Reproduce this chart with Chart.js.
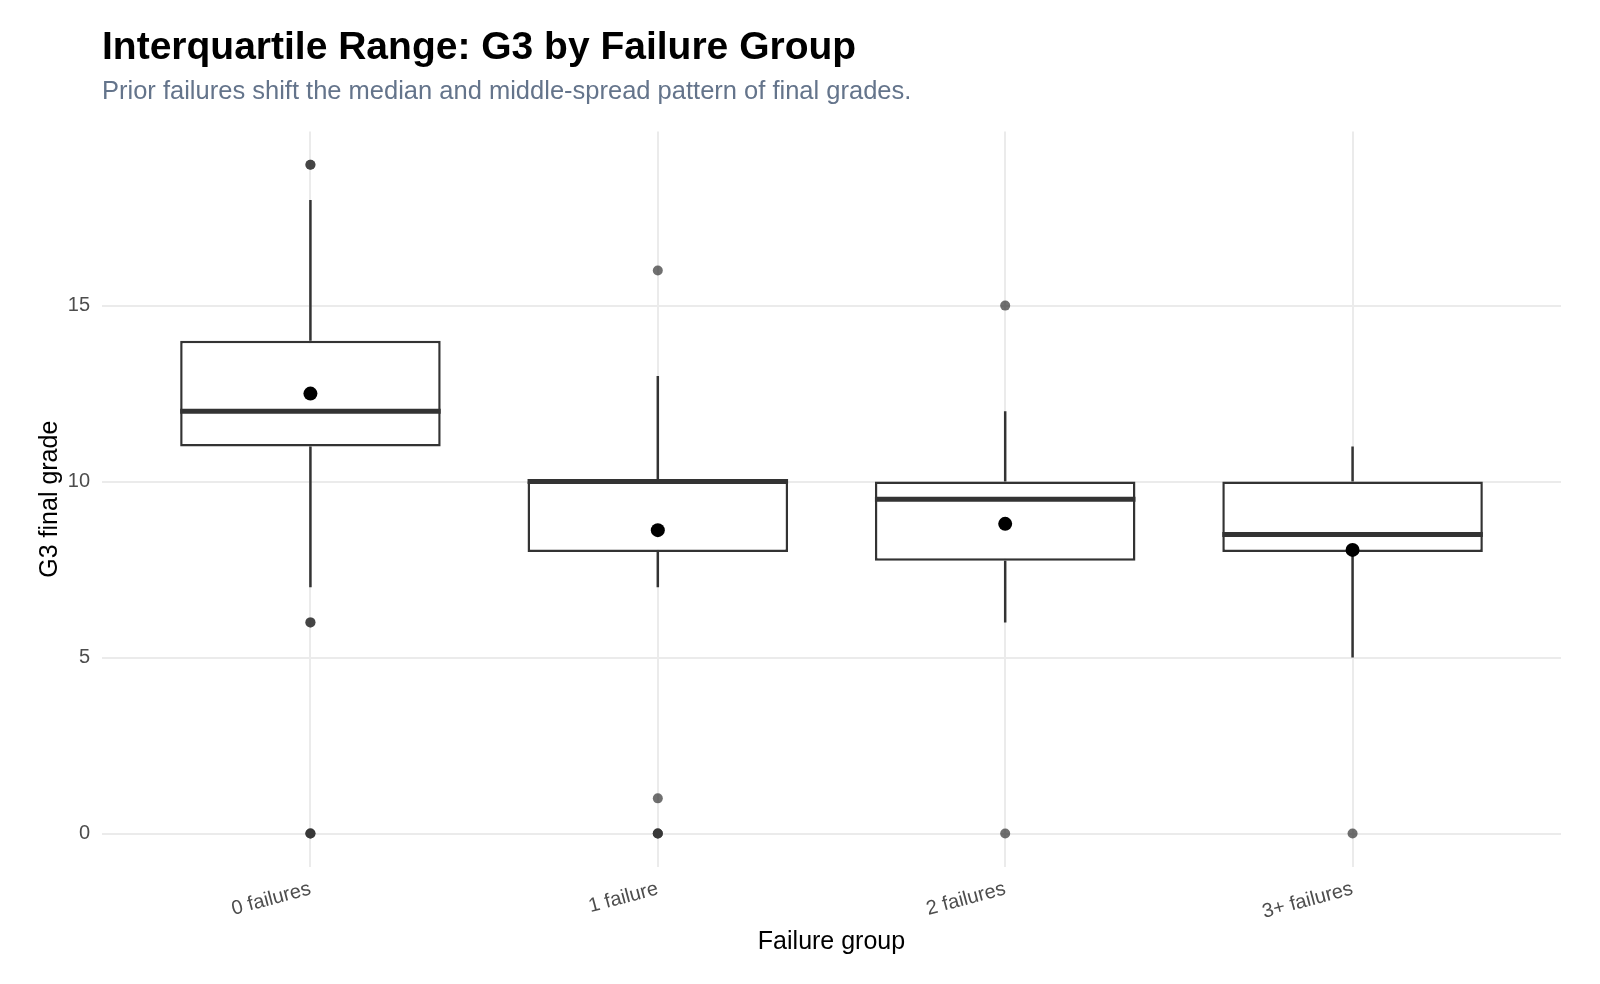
<!DOCTYPE html>
<html>
<head>
<meta charset="utf-8">
<script src="https://cdn.jsdelivr.net/npm/chart.js@4.4.1/dist/chart.umd.min.js"></script>
<style>
  html, body { margin: 0; padding: 0; background: #ffffff; }
  #wrap { width: 1600px; height: 984px; position: relative; }
</style>
</head>
<body>
<div id="wrap"><canvas id="boxplot"></canvas></div>
<script>
// data
const groupLabels = ['0 failures', '1 failure', '2 failures', '3+ failures'];
const lowerWhisker = [7, 7, 6, 5];
const firstQuartile = [11, 8, 7.75, 8];
const medianGrade = [12, 10, 9.5, 8.5];
const thirdQuartile = [14, 10, 10, 10];
const upperWhisker = [18, 13, 12, 11];
const meanGrade = [12.5, 8.62, 8.8, 8.06];
const outlierGrades = [[19, 19, 6, 6, 0, 0, 0], [16, 1, 0, 0, 0], [15, 0], [0]];
const yTickValues = [0, 5, 10, 15];

const BOX_HALF = 0.375;
const LINE_COLOR = '#333333';
const FONT = "'Liberation Sans', Arial, Helvetica, sans-serif";

Chart.defaults.font.family = FONT;

const positions = groupLabels.map((_, i) => i + 1);

// boxes as floating bars
const boxData = positions.map((x, i) => ({ x: x, y: [firstQuartile[i], thirdQuartile[i]] }));

// whiskers: q3 -> max and q1 -> min, with gaps between groups
const whiskerData = [];
positions.forEach((x, i) => {
  whiskerData.push({ x: x, y: thirdQuartile[i] }, { x: x, y: upperWhisker[i] }, { x: x, y: null });
  whiskerData.push({ x: x, y: firstQuartile[i] }, { x: x, y: lowerWhisker[i] }, { x: x, y: null });
});

const medianData = [];
positions.forEach((x, i) => {
  medianData.push({ x: x - BOX_HALF, y: medianGrade[i] }, { x: x + BOX_HALF, y: medianGrade[i] }, { x: x, y: null });
});

const outlierData = [];
positions.forEach((x, i) => {
  outlierGrades[i].forEach(v => outlierData.push({ x: x, y: v }));
});

const meanData = positions.map((x, i) => ({ x: x, y: meanGrade[i] }));

const ctx = document.getElementById('boxplot').getContext('2d');

new Chart(ctx, {
  type: 'scatter',
  data: {
    datasets: [
      {
        type: 'scatter',
        data: meanData,
        pointRadius: 7,
        pointBackgroundColor: '#000000',
        pointBorderWidth: 0,
        order: 0
      },
      {
        type: 'scatter',
        data: outlierData,
        pointRadius: 5,
        pointBackgroundColor: 'rgba(51, 51, 51, 0.7)',
        pointBorderWidth: 0,
        order: 1
      },
      {
        type: 'scatter',
        data: medianData,
        showLine: true,
        spanGaps: false,
        borderColor: LINE_COLOR,
        borderWidth: 5,
        borderCapStyle: 'butt',
        pointRadius: 0,
        order: 2
      },
      {
        type: 'bar',
        data: boxData,
        backgroundColor: '#ffffff',
        borderColor: LINE_COLOR,
        borderWidth: 2.5,
        borderSkipped: false,
        categoryPercentage: 0.75,
        barPercentage: 1,
        order: 3
      },
      {
        type: 'scatter',
        data: whiskerData,
        showLine: true,
        spanGaps: false,
        borderColor: LINE_COLOR,
        borderWidth: 2.5,
        borderCapStyle: 'butt',
        pointRadius: 0,
        order: 4
      }
    ]
  },
  options: {
    responsive: true,
    maintainAspectRatio: false,
    animation: false,
    events: [],
    layout: { padding: { left: 0, right: 39, top: 0, bottom: 0 } },
    plugins: {
      legend: { display: false },
      tooltip: { enabled: false },
      title: {
        display: true,
        text: 'Interquartile Range: G3 by Failure Group',
        align: 'start',
        fullSize: false,
        color: '#000000',
        font: { size: 39, weight: 'bold', lineHeight: 1.2 },
        padding: { top: 25, bottom: 0 }
      },
      subtitle: {
        display: true,
        text: 'Prior failures shift the median and middle-spread pattern of final grades.',
        align: 'start',
        fullSize: false,
        color: '#64748b',
        font: { size: 25.5, lineHeight: 1.2 },
        padding: { top: 5, bottom: 24 }
      }
    },
    scales: {
      x: {
        type: 'linear',
        min: 0.4,
        max: 4.6,
        offset: false,
        afterBuildTicks: (scale) => { scale.ticks = positions.map(v => ({ value: v })); },
        afterFit: (scale) => { scale.height = 117; },
        grid: { color: '#ebebeb', lineWidth: 2, drawTicks: false, offset: false },
        border: { display: false },
        ticks: {
          autoSkip: false,
          minRotation: 15,
          maxRotation: 15,
          padding: 10,
          color: '#4d4d4d',
          font: { size: 20 },
          callback: (value) => groupLabels[value - 1]
        },
        title: {
          display: true,
          text: 'Failure group',
          color: '#000000',
          font: { size: 25, lineHeight: 1.2 },
          padding: { top: 0, bottom: 27 }
        }
      },
      y: {
        type: 'linear',
        min: -0.95,
        max: 19.95,
        afterBuildTicks: (scale) => { scale.ticks = yTickValues.map(v => ({ value: v })); },
        afterFit: (scale) => { scale.width = 102; },
        grid: { color: '#ebebeb', lineWidth: 2, drawTicks: false },
        border: { display: false },
        ticks: {
          padding: 12,
          color: '#4d4d4d',
          font: { size: 20 }
        },
        title: {
          display: true,
          text: 'G3 final grade',
          color: '#000000',
          font: { size: 25, lineHeight: 1.2 },
          padding: { top: 35, bottom: 0 }
        }
      }
    }
  }
});
</script>
</body>
</html>
